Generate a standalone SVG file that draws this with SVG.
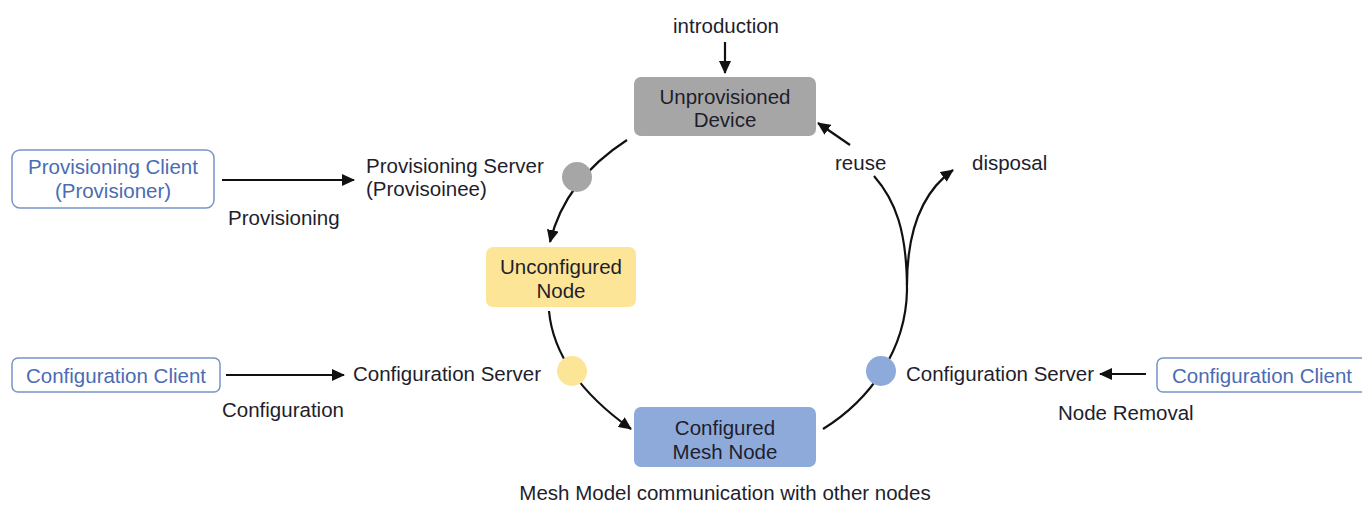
<svg xmlns="http://www.w3.org/2000/svg" width="1362" height="505" viewBox="0 0 1362 505">
<defs>
<marker id="ah" markerUnits="userSpaceOnUse" markerWidth="14" markerHeight="12" refX="12" refY="6" orient="auto">
<path d="M0,0 L13,6 L0,12 Z" fill="#111"/>
</marker>
<style>
text{font-family:"Liberation Sans",Arial,sans-serif;font-size:20.5px;fill:#1e1e2c}
.c{text-anchor:middle}
.b{fill:#4a6cb3}
.client{fill:#fff;stroke:#7a93c9;stroke-width:1.5}
.ln{fill:none;stroke:#111;stroke-width:2.2}
.arr{marker-end:url(#ah)}
</style>
</defs>
<g id="connectors">
<line class="ln arr" x1="725" y1="42" x2="725" y2="73"/>
<line class="ln arr" x1="222" y1="180" x2="354" y2="180"/>
<line class="ln arr" x1="226" y1="375" x2="344" y2="375"/>
<line class="ln arr" x1="1146" y1="374" x2="1100" y2="374"/>
<path class="ln arr" d="M627,140 Q565,180 550,242"/>
<path class="ln arr" d="M549,311 Q555,375 631,429"/>
<path class="ln" d="M823,429 C870,400 906,350 907,290 C907,230 895,200 874,176"/>
<path class="ln arr" d="M907,285 C907,225 925,190 953,170"/>
<line class="ln arr" x1="850" y1="145" x2="818" y2="123"/>
</g>
<g id="state-points">
<circle id="p-grey" cx="577" cy="177" r="15" fill="#a6a6a6"/>
<circle id="p-yellow" cx="572" cy="371" r="15" fill="#fde597"/>
<circle id="p-blue" cx="881" cy="371" r="15" fill="#8eaadb"/>
</g>
<g id="n-unprov">
<rect x="634" y="77" width="182" height="59" rx="7" fill="#a6a6a6"/>
<text class="c" x="725" y="104">Unprovisioned</text>
<text class="c" x="725" y="127">Device</text>
</g>
<g id="n-unconf">
<rect x="486" y="247" width="150" height="60" rx="7" fill="#fde597"/>
<text class="c" x="561" y="274">Unconfigured</text>
<text class="c" x="561" y="298">Node</text>
</g>
<g id="n-conf">
<rect x="634" y="407" width="182" height="60" rx="7" fill="#8eaadb"/>
<text class="c" x="725" y="435">Configured</text>
<text class="c" x="725" y="459">Mesh Node</text>
</g>
<g id="n-prov-client">
<rect class="client" x="12" y="150" width="202" height="58" rx="8"/>
<text class="c b" x="113" y="174">Provisioning Client</text>
<text class="c b" x="113" y="198">(Provisioner)</text>
</g>
<g id="n-conf-client-l">
<rect class="client" x="12" y="358" width="208" height="34" rx="6"/>
<text class="c b" x="116" y="383">Configuration Client</text>
</g>
<g id="n-conf-client-r">
<rect class="client" x="1157" y="358" width="215" height="34" rx="6"/>
<text class="b" x="1172" y="383">Configuration Client</text>
</g>
<g id="labels">
<text class="c" x="726" y="33">introduction</text>
<text x="366" y="173">Provisioning Server</text>
<text x="366" y="196">(Provisoinee)</text>
<text x="228" y="225">Provisioning</text>
<text x="353" y="381">Configuration Server</text>
<text x="222" y="417">Configuration</text>
<text x="906" y="381">Configuration Server</text>
<text x="1058" y="420">Node Removal</text>
<text x="835" y="170">reuse</text>
<text x="972" y="170">disposal</text>
<text class="c" x="725" y="500">Mesh Model communication with other nodes</text>
</g>
</svg>
